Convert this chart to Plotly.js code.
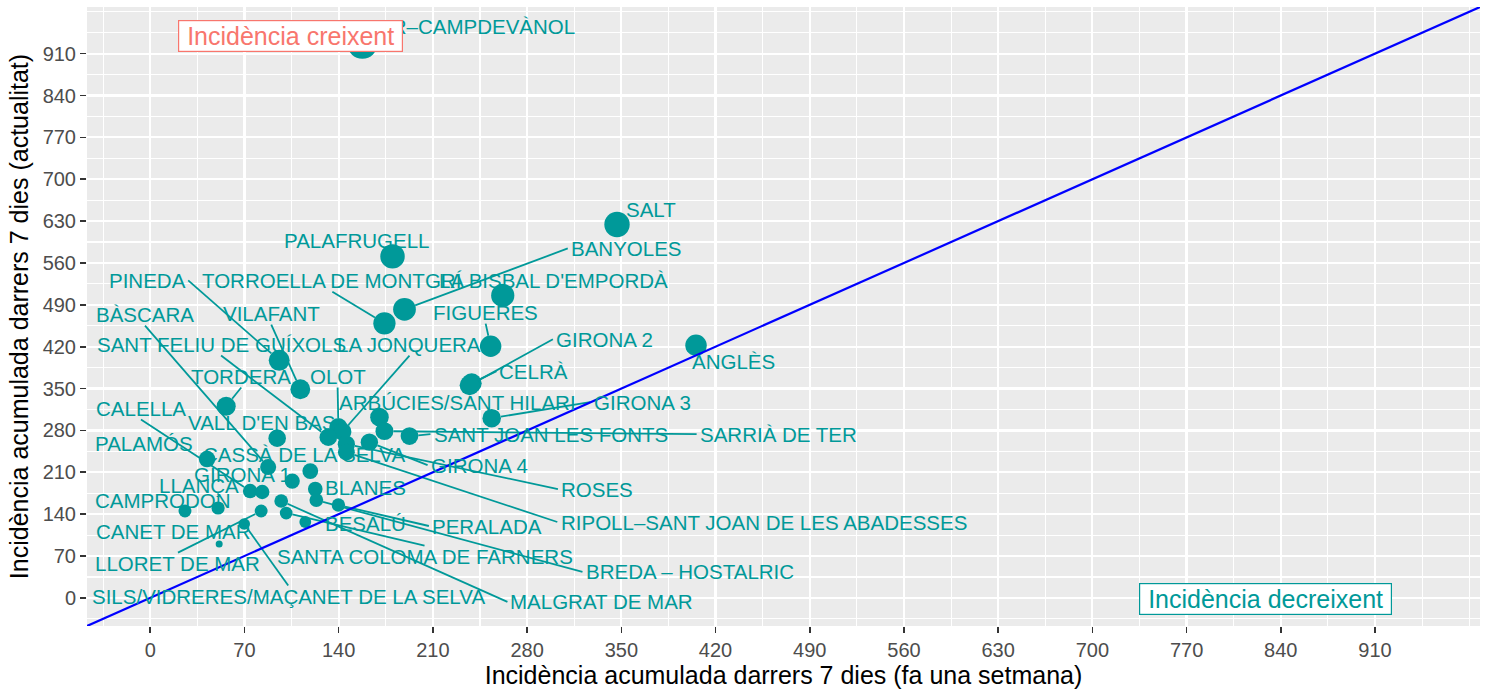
<!DOCTYPE html>
<html>
<head>
<meta charset="utf-8">
<script src="https://cdn.plot.ly/plotly-3.0.1.min.js"></script>
<style>html,body{margin:0;padding:0;background:#fff;}#chart{width:1489px;height:690px;}</style>
</head>
<body>
<div id="chart"></div>
<script>
// ---- data ----
const names = [
  "RIBES DE FRESER–CAMPDEVÀNOL","SALT","PALAFRUGELL","BANYOLES","TORROELLA DE MONTGRÍ",
  "LA BISBAL D'EMPORDÀ","PINEDA","VILAFANT","FIGUERES","ANGLÈS",
  "CELRÀ","GIRONA 2","TORDERA","ARBÚCIES/SANT HILARI","GIRONA 3",
  "VALL D'EN BAS","OLOT","LA JONQUERA","SANT FELIU DE GUÍXOLS","ROSES",
  "RIPOLL–SANT JOAN DE LES ABADESSES","GIRONA 4","SARRIÀ DE TER","SANT JOAN LES FONTS","PALAMÓS",
  "BÀSCARA","CASSÀ DE LA SELVA","GIRONA 1","CALELLA","LLANÇA",
  "BLANES","BREDA – HOSTALRIC","PERALADA","MALGRAT DE MAR","LLORET DE MAR",
  "SANTA COLOMA DE FARNERS","BESALÚ","SILS/VIDRERES/MAÇANET DE LA SELVA","CAMPRODON","",
  "CANET DE MAR"
];
// incidence previous week (x)
const prevWeek = [
  157.6,346.8,180.0,188.9,174.0,
  261.9,95.8,111.5,252.9,405.5,
  238.8,237.3,56.4,170.3,253.7,
  94.3,139.8,142.8,132.3,145.7,
  145.7,162.8,174.0,192.6,42.2,
  87.6,118.9,105.5,74.2,83.2,
  122.6,123.4,139.8,97.3,82.4,
  101.0,115.2,69.8,25.8,50.4,
  51.2
];
// incidence current (y)
const current = [
  926.5,624.4,571.0,482.5,459.1,
  505.8,397.3,348.9,420.7,422.4,
  358.9,355.6,320.5,302.2,300.5,
  267.1,285.5,277.9,268.8,257.1,
  243.7,260.4,278.8,270.5,232.1,
  218.7,212.0,195.3,178.6,177.0,
  182.0,163.6,155.3,162.0,145.2,
  141.9,126.9,123.5,145.2,150.3,
  90.2
];
// repelled label positions (data units) and whether a segment joins label and point
const labelX = [
  184.5,372.0,153.2,353.5,135.3,
  299.8,-2.4,89.9,249.2,433.0,
  284.9,337.8,67.6,228.3,365.4,
  82.4,139.2,192.6,52.6,331.8,
  456.2,244.7,466.6,297.6,-4.7,
  -3.9,114.5,68.4,-6.9,36.4,
  159.8,401.1,249.9,335.6,20.6,
  203.8,159.8,102.5,9.5,null,
  16.9
];
const labelY = [
  954.9,649.4,597.7,584.3,530.9,
  530.9,530.9,475.8,477.5,395.7,
  379.0,432.4,370.6,327.2,327.2,
  293.8,370.6,424.0,424.0,182.0,
  126.9,222.0,273.8,273.8,258.8,
  474.1,240.4,207.0,317.2,188.6,
  185.3,43.4,120.2,-6.7,56.8,
  68.4,125.2,1.7,163.6,null,
  110.2
];
const segment = [
  0,0,0,1,1,
  0,1,1,1,0,
  1,1,1,0,1,
  0,1,1,1,1,
  1,1,1,1,0,
  1,0,0,1,0,
  0,1,1,1,1,
  1,0,1,0,0,
  0
];
const xTicks = [0,70,140,210,280,350,420,490,560,630,700,770,840,910];
const boxLabels = ["Incidència creixent","Incidència decreixent"];
const boxX = [104, 828.5];
const boxY = [940, -1.7];

// ---- styling ----
const teal = "#009999";
const red = "#F8766D";
const FONT = "Liberation Sans, Arial, Helvetica, sans-serif";
const LABEL_SIZE = 20.5;
const axisRange = [-47, 988];
const W = 1489, H = 690;
const M = {l: 87, r: 9, t: 7, b: 64};

const yMin = Math.min(...current), yMax = Math.max(...current);
const sizeOf = v => 7 + 23 * Math.sqrt((v - yMin) / (yMax - yMin));
const sizes = current.map(sizeOf);

// pixel <-> data helpers (from the axis range and plot area)
const pw = W - M.l - M.r, ph = H - M.t - M.b;
const kx = pw / (axisRange[1] - axisRange[0]);
const ky = ph / (axisRange[1] - axisRange[0]);
const d2px = x => M.l + (x - axisRange[0]) * kx;
const d2py = y => M.t + (axisRange[1] - y) * ky;
const px2d = p => axisRange[0] + (p - M.l) / kx;
const py2d = p => axisRange[1] - (p - M.t) / ky;

const ctx = document.createElement("canvas").getContext("2d");
ctx.font = LABEL_SIZE + "px 'Liberation Sans'";

// segments: from the nearest side-midpoint of the label box to the point edge
const segX = [], segY = [];
names.forEach((n, i) => {
  if (!n || !segment[i]) return;
  const cx = d2px(labelX[i]), cy = d2py(labelY[i]);
  const px = d2px(prevWeek[i]), py = d2py(current[i]);
  const hw = ctx.measureText(n).width / 2 + 3, hh = LABEL_SIZE * 0.55;
  const dx = px - cx, dy = py - cy;
  const ox = Math.max(0, Math.abs(dx) - hw), oy = Math.max(0, Math.abs(dy) - hh);
  let sx, sy;
  if (ox > oy) { sx = cx + Math.sign(dx) * hw; sy = cy; }
  else { sx = cx; sy = cy + Math.sign(dy) * hh; }
  const L = Math.hypot(px - sx, py - sy);
  const r = sizes[i] / 2;
  if (L <= r + 2) return;
  const ex = px - (px - sx) * r / L, ey = py - (py - sy) * r / L;
  segX.push(px2d(sx), px2d(ex), null);
  segY.push(py2d(sy), py2d(ey), null);
});

const pointsTrace = {
  type: "scatter", mode: "markers",
  x: prevWeek, y: current, text: names,
  marker: {color: teal, size: sizes, sizemode: "diameter", line: {width: 0}, opacity: 1},
  hoverinfo: "text", cliponaxis: true
};
const segTrace = {
  type: "scatter", mode: "lines", x: segX, y: segY,
  line: {color: teal, width: 1.8}, hoverinfo: "skip", cliponaxis: false
};

const annotations = [];
names.forEach((n, i) => {
  if (!n) return;
  annotations.push({
    text: n, x: labelX[i], y: labelY[i], xref: "x", yref: "y", showarrow: false,
    xanchor: "center", yanchor: "middle",
    font: {family: FONT, size: LABEL_SIZE, color: teal}
  });
});
const boxColors = [red, teal];
boxLabels.forEach((t, i) => {
  annotations.push({
    text: "\u00a0" + t + "\u00a0", x: boxX[i], y: boxY[i], xref: "x", yref: "y", showarrow: false,
    font: {family: FONT, size: 25, color: boxColors[i]},
    bgcolor: "#ffffff", bordercolor: boxColors[i], borderwidth: 1.2, borderpad: 1,
    xanchor: "center", yanchor: "middle"
  });
});

const axisCommon = {
  range: axisRange, tickmode: "array", tickvals: xTicks, ticktext: xTicks.map(String),
  showgrid: true, gridcolor: "#ffffff", gridwidth: 2.2, zeroline: false, showline: false,
  ticks: "outside", ticklen: 6, tickwidth: 1.6, tickcolor: "#333333",
  tickfont: {family: FONT, size: 20, color: "#4D4D4D"},
  minor: {dtick: 35, tick0: 0, showgrid: true, gridcolor: "#ffffff", gridwidth: 1.1, ticks: ""},
  automargin: false
};

const layout = {
  width: W, height: H,
  margin: M,
  paper_bgcolor: "#ffffff", plot_bgcolor: "#EBEBEB",
  showlegend: false,
  font: {family: FONT},
  xaxis: Object.assign({}, axisCommon, {
    title: {text: "Incidència acumulada darrers 7 dies (fa una setmana)", font: {family: FONT, size: 25, color: "#000000"}, standoff: 6}
  }),
  yaxis: Object.assign({}, axisCommon, {
    title: {text: "Incidència acumulada darrers 7 dies (actualitat)", font: {family: FONT, size: 25, color: "#000000"}, standoff: 6}
  }),
  shapes: [{
    type: "line", xref: "x", yref: "y",
    x0: axisRange[0], y0: axisRange[0], x1: axisRange[1], y1: axisRange[1],
    line: {color: "#0000FF", width: 2.2}, layer: "above"
  }],
  annotations: annotations
};

document.fonts.ready.then(() => {
  Plotly.newPlot("chart", [pointsTrace, segTrace], layout, {displayModeBar: false, staticPlot: true});
});
</script>
</body>
</html>
